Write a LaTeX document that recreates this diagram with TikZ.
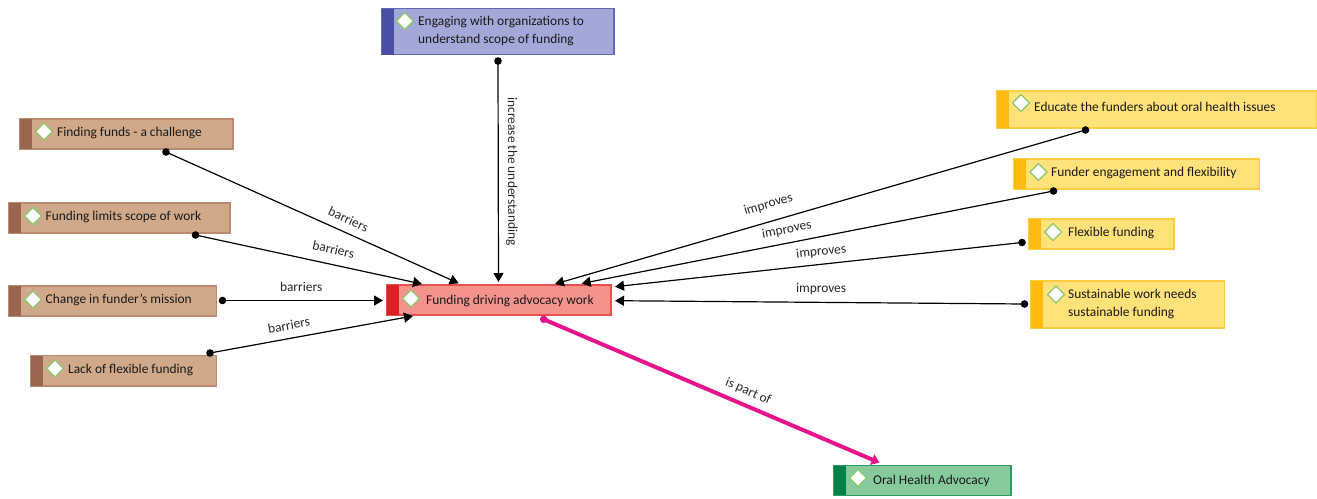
\documentclass[tikz,border=0pt]{standalone}
\usepackage{fontspec}
\setmainfont{Carlito}
\usetikzlibrary{arrows.meta,shapes.geometric}
\definecolor{brownF}{HTML}{CFA98A}\definecolor{brownS}{HTML}{9A6650}\definecolor{brownB}{HTML}{B98B70}
\definecolor{blueF}{HTML}{A3A8D8}\definecolor{blueS}{HTML}{4A4FA5}\definecolor{blueB}{HTML}{6368B5}
\definecolor{yelF}{HTML}{FFE27A}\definecolor{yelS}{HTML}{FFBC10}\definecolor{yelB}{HTML}{FFCC40}
\definecolor{redF}{HTML}{F4928C}\definecolor{redS}{HTML}{DD1F26}\definecolor{redB}{HTML}{E85050}
\definecolor{greenF}{HTML}{86C99B}\definecolor{greenS}{HTML}{00814A}\definecolor{greenB}{HTML}{2E9A63}
\definecolor{dia}{HTML}{8CC66B}\definecolor{pinkL}{HTML}{E6148C}
\tikzset{
  card/.style={draw=#1B,fill=#1F,line width=1.3pt,inner sep=0pt,outer sep=0pt,anchor=north west},
  mark diamond/.style={diamond,draw=dia,fill=white,line width=1.2pt,inner sep=0pt,minimum width=17.5pt,minimum height=17.5pt,aspect=1},
  cardtext/.style={inner sep=0pt,anchor=west,align=left,font=\fontsize{13.4}{17.5}\selectfont,text=black!90,yshift=-1.2pt},
  link/.style={draw=black,line width=1.2pt,-{Triangle[length=9pt,width=10pt]}},
  plink/.style={draw=pinkL,line width=4pt,-{Triangle[length=8pt,width=11pt]}},
  lab/.style={inner sep=0pt,font=\fontsize{13.4}{15}\selectfont,text=black!85,sloped},
}
% name, palette, (x0,y0), w, h, (diamond), (text), text
\newcommand{\kcard}[8]{%
  \node[card=#2,minimum width=#4pt,minimum height=#5pt] (#1) at #3 {};
  \fill[#2S] (#1.north west) rectangle ([xshift=12pt]#1.south west);
  \node[mark diamond] (#1d) at #6 {};
  \node[cardtext] (#1t) at #7 {#8};
}
\begin{document}
\begin{tikzpicture}[x=1pt,y=-1pt]
\useasboundingbox (0,0) rectangle (1317,498);
\kcard{hub}{red}{(386.5,285)}{224.5}{30}{(411,298.5)}{(426,299.5)}{Funding driving advocacy work}
\kcard{eng}{blue}{(381.5,8.5)}{232.5}{46}{(404.7,21)}{(418,30)}{Engaging with organizations to\\understand scope of funding}
\kcard{ff}{brown}{(19.5,119)}{213.5}{30}{(44,131.5)}{(57,131.5)}{Finding funds - a challenge}
\kcard{fl}{brown}{(8.5,203)}{221.5}{30}{(33,216)}{(45.5,215.5)}{Funding limits scope of work}
\kcard{cm}{brown}{(8.5,286)}{208}{30}{(33,299.5)}{(45.5,299)}{Change in funder's mission}
\kcard{lf}{brown}{(30.5,355.5)}{186}{30.5}{(55,368.5)}{(68,368.5)}{Lack of flexible funding}
\kcard{ed}{yel}{(996.5,91)}{320.5}{37}{(1021,103)}{(1034,105.5)}{Educate the funders about oral health issues}
\kcard{fe}{yel}{(1013.5,159)}{246}{30}{(1038.5,172)}{(1051,172)}{Funder engagement and flexibility}
\kcard{fx}{yel}{(1028.5,219)}{145.5}{30}{(1053,232)}{(1068,232)}{Flexible funding}
\kcard{su}{yel}{(1031,281)}{193.5}{47}{(1056,294.5)}{(1068,303)}{Sustainable work needs\\sustainable funding}
\kcard{oh}{green}{(833.5,465.7)}{177.5}{29.6}{(858,478)}{(873,480)}{Oral Health Advocacy}
% connector ends
\coordinate (ffe) at ([shift={(146.5,33)}]ff.north west);
\coordinate (fle) at ([shift={(187,32)}]fl.north west);
\coordinate (cme) at ([shift={(214,14.5)}]cm.north west);
\coordinate (lfe) at ([shift={(179.5,-2.5)}]lf.north west);
\coordinate (enge) at ([shift={(116.5,52.5)}]eng.north west);
\coordinate (ede) at ([shift={(89,39)}]ed.north west);
\coordinate (fee) at ([shift={(40,32)}]fe.north west);
\coordinate (fxe) at ([shift={(-6.5,23.5)}]fx.north west);
\coordinate (sue) at ([shift={(-6.5,23)}]su.north west);
\foreach \p in {ffe,fle,cme,lfe,enge,ede,fee,fxe,sue} {\fill (\p) circle[radius=3.8pt];}
\draw[link] (ffe) -- node[lab,pos=.605,above=8pt]{barriers} ([shift={(72.2,-1.7)}]hub.north west);
\draw[link] (fle) -- node[lab,pos=.595,above=10pt]{barriers} ([shift={(35.5,-1)}]hub.north west);
\draw[link] (cme) -- node[lab,pos=.49,above=8pt]{barriers} ([shift={(-3.5,15.5)}]hub.north west);
\draw[link] (lfe) -- node[lab,pos=.40,above=8pt]{barriers} ([shift={(26.5,31)}]hub.north west);
\draw[link] (enge) -- node[lab,pos=.5,above=7pt]{increase the understanding} ([shift={(112,-3)}]hub.north west);
\draw[link] (ede) -- node[lab,pos=.589,above=10.5pt]{improves} ([shift={(168.5,-1)}]hub.north west);
\draw[link] (fee) -- node[lab,pos=.56,above=7pt]{improves} ([shift={(195.2,-1.5)}]hub.north west);
\draw[link] (fxe) -- node[lab,pos=.49,above=6pt]{improves} ([shift={(228.5,1.7)}]hub.north west);
\draw[link] (sue) -- node[lab,pos=.497,above=7pt]{improves} ([shift={(228.5,15.7)}]hub.north west);
\fill[pinkL] ([shift={(157.2,34.3)}]hub.north west) circle[radius=3.8pt];
\draw[plink] ([shift={(157.2,34.3)}]hub.north west) -- node[lab,pos=.593,above=6pt]{is part of} ([shift={(46,-3)}]oh.north west);
\end{tikzpicture}
\end{document}
